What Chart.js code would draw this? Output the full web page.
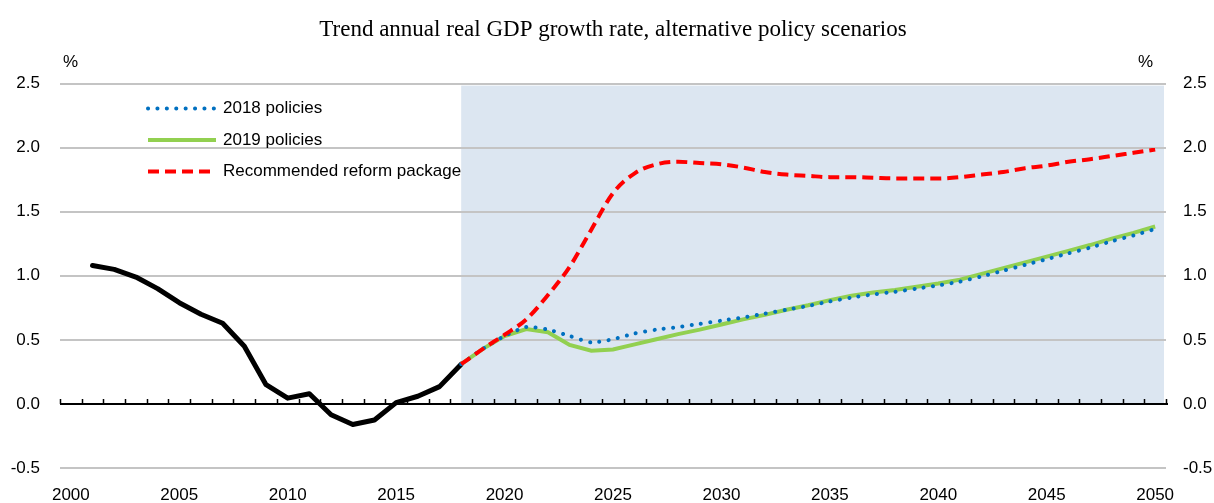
<!DOCTYPE html>
<html>
<head>
<meta charset="utf-8">
<script src="https://cdn.jsdelivr.net/npm/chart.js@4.4.1/dist/chart.umd.min.js"></script>
<style>
  html, body { margin: 0; padding: 0; background: #fff; }
  #wrap { width: 1214px; height: 503px; }
</style>
</head>
<body>
<div id="wrap"><canvas id="gdpChart" width="1214" height="503"></canvas></div>
<script>
// --- Data ---
const years = ['2000','2001','2002','2003','2004','2005','2006','2007','2008','2009',
  '2010','2011','2012','2013','2014','2015','2016','2017','2018','2019',
  '2020','2021','2022','2023','2024','2025','2026','2027','2028','2029',
  '2030','2031','2032','2033','2034','2035','2036','2037','2038','2039',
  '2040','2041','2042','2043','2044','2045','2046','2047','2048','2049','2050'];

const historical = [null, 1.08, 1.05, 0.99, 0.90, 0.79, 0.70, 0.63, 0.45, 0.15,
  0.045, 0.08, -0.085, -0.16, -0.125, 0.01, 0.06, 0.135, 0.31];

const policies2018 = [0.31, 0.43, 0.53, 0.60, 0.58, 0.53, 0.48, 0.505, 0.55, 0.58,
  0.60, 0.625, 0.65, 0.675, 0.705, 0.735, 0.765, 0.80, 0.83, 0.855,
  0.875, 0.90, 0.925, 0.955, 0.995, 1.04, 1.085, 1.13, 1.175, 1.22,
  1.27, 1.315, 1.365];

const policies2019 = [0.31, 0.43, 0.53, 0.585, 0.56, 0.46, 0.415, 0.425, 0.465, 0.505,
  0.545, 0.58, 0.62, 0.66, 0.695, 0.735, 0.77, 0.81, 0.845, 0.87,
  0.89, 0.915, 0.94, 0.97, 1.015, 1.06, 1.105, 1.15, 1.195, 1.24,
  1.29, 1.335, 1.385];

const reformPackage = [0.31, 0.43, 0.54, 0.66, 0.85, 1.07, 1.36, 1.645, 1.80, 1.87,
  1.89, 1.88, 1.87, 1.845, 1.81, 1.79, 1.78, 1.77, 1.77, 1.765,
  1.76, 1.76, 1.76, 1.77, 1.79, 1.81, 1.84, 1.86, 1.89, 1.91,
  1.935, 1.96, 1.985];

const projectionStart = '2018';
const yTicks = [-0.5, 0, 0.5, 1.0, 1.5, 2.0, 2.5];
const legendOrder = ['2018 policies', '2019 policies', 'Recommended reform package'];

// projections start at 2018, pad the earlier years with nulls
function fromYear(start, values) {
  const idx = years.indexOf(start);
  return years.map((y, i) => (i < idx ? null : (values[i - idx] ?? null)));
}

const sansFont = "'Liberation Sans', Arial, sans-serif";

// --- Plugin: shaded projection area, zero axis with ticks, % units, legend ---
const decorPlugin = {
  id: 'decor',
  beforeDraw(chart) {
    const { ctx, chartArea, scales } = chart;
    const x0 = scales.x.getPixelForValue(years.indexOf(projectionStart));
    const yTop = scales.y.getPixelForValue(yTicks[yTicks.length - 1]);
    const yZero = scales.y.getPixelForValue(0);
    ctx.save();
    ctx.fillStyle = '#dce6f1';
    ctx.fillRect(x0, yTop + 2, chartArea.right - x0 - 2, yZero - yTop - 2);
    ctx.restore();
  },
  beforeDatasetsDraw(chart) {
    const { ctx, chartArea, scales } = chart;
    const yZero = scales.y.getPixelForValue(0);
    const step = scales.x.width / years.length;
    ctx.save();
    ctx.strokeStyle = '#000';
    ctx.lineWidth = 1.5;
    ctx.beginPath();
    for (let i = 0; i <= years.length; i++) {
      const x = Math.round(scales.x.left + i * step) + 0.5;
      ctx.moveTo(x, yZero);
      ctx.lineTo(x, yZero - 5);
    }
    ctx.stroke();
    ctx.lineWidth = 2;
    ctx.beginPath();
    ctx.moveTo(chartArea.left, yZero);
    ctx.lineTo(chartArea.right + 2, yZero);
    ctx.stroke();
    ctx.restore();
  },
  afterDraw(chart) {
    const { ctx, chartArea } = chart;
    ctx.save();
    ctx.fillStyle = '#000';
    ctx.font = '17px ' + sansFont;
    ctx.textBaseline = 'middle';
    ctx.textAlign = 'left';
    ctx.fillText('%', chartArea.left + 3, chartArea.top - 21);
    ctx.fillText('%', chartArea.right - 28, chartArea.top - 21);

    // legend (only the three scenario lines)
    const lx = chartArea.left + 88;
    let ly = chartArea.top + 25;
    legendOrder.forEach(name => {
      const ds = chart.data.datasets.find(d => d.label === name);
      ctx.save();
      ctx.strokeStyle = ds.borderColor;
      ctx.lineWidth = ds.borderWidth;
      ctx.lineCap = ds.borderCapStyle || 'butt';
      ctx.setLineDash(ds.borderDash || []);
      ctx.beginPath();
      ctx.moveTo(lx, ly);
      ctx.lineTo(lx + 68, ly);
      ctx.stroke();
      ctx.restore();
      ctx.fillText(ds.label, lx + 75, ly);
      ly += 31.5;
    });
    ctx.restore();
  }
};

new Chart(document.getElementById('gdpChart'), {
  type: 'line',
  data: {
    labels: years,
    datasets: [
      {
        label: 'History',
        data: fromYear('2000', historical),
        borderColor: '#000000',
        borderWidth: 5,
        borderJoinStyle: 'round',
        borderCapStyle: 'round',
        pointRadius: 0,
        tension: 0,
        order: 4
      },
      {
        label: '2019 policies',
        data: fromYear(projectionStart, policies2019),
        borderColor: '#92d050',
        borderWidth: 4,
        pointRadius: 0,
        tension: 0,
        order: 3
      },
      {
        label: '2018 policies',
        data: fromYear(projectionStart, policies2018),
        borderColor: '#0070c0',
        borderWidth: 4,
        borderDash: [0.1, 9.3],
        borderCapStyle: 'round',
        pointRadius: 0,
        tension: 0.2,
        order: 2
      },
      {
        label: 'Recommended reform package',
        data: fromYear(projectionStart, reformPackage),
        borderColor: '#ff0000',
        borderWidth: 4,
        borderDash: [11, 6],
        pointRadius: 0,
        cubicInterpolationMode: 'monotone',
        order: 1
      }
    ]
  },
  options: {
    responsive: false,
    devicePixelRatio: 1,
    animation: false,
    layout: { padding: { left: 0, right: 0, top: 0, bottom: 0 } },
    plugins: {
      legend: { display: false },
      tooltip: { enabled: false },
      title: {
        display: true,
        fullSize: false,
        text: 'Trend annual real GDP growth rate, alternative policy scenarios',
        color: '#000',
        font: { family: "'Liberation Serif', 'Times New Roman', serif", size: 23, weight: 'normal', lineHeight: 1.2 },
        padding: { top: 16, bottom: 40 }
      }
    },
    scales: {
      x: {
        type: 'category',
        offset: true,
        grid: { display: false },
        border: { display: false },
        ticks: {
          autoSkip: false,
          maxRotation: 0,
          padding: 9,
          color: '#000',
          font: { family: sansFont, size: 17 },
          callback: function(value) {
            const label = this.getLabelForValue(value);
            return Number(label) % 5 === 0 ? label : '';
          }
        },
        afterFit: scale => { scale.height = 35; }
      },
      y: {
        position: 'left',
        min: -0.5,
        max: 2.5,
        afterBuildTicks: scale => { scale.ticks = yTicks.map(v => ({ value: v })); },
        grid: {
          drawTicks: false,
          color: ctx => (ctx.tick && ctx.tick.value === 0 ? 'rgba(0,0,0,0)' : '#c4c4c4'),
          lineWidth: 2
        },
        border: { display: false },
        ticks: {
          padding: 20,
          color: '#000',
          font: { family: sansFont, size: 17 },
          callback: v => v.toFixed(1)
        },
        afterFit: scale => { scale.width = 60; }
      },
      y2: {
        position: 'right',
        min: -0.5,
        max: 2.5,
        afterBuildTicks: scale => { scale.ticks = yTicks.map(v => ({ value: v })); },
        grid: { display: false, drawTicks: false },
        border: { display: false },
        ticks: {
          padding: 17,
          color: '#000',
          font: { family: sansFont, size: 17 },
          callback: v => v.toFixed(1)
        },
        afterFit: scale => { scale.width = 48; }
      }
    }
  },
  plugins: [decorPlugin]
});
</script>
</body>
</html>
